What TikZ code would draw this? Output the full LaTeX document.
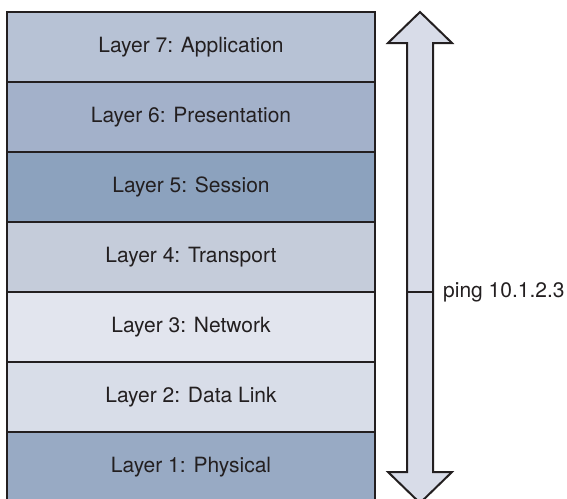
\documentclass[tikz,border=0pt]{standalone}
\usepackage{fontspec}
\setmainfont{TeX Gyre Heros}
\definecolor{txt}{HTML}{231F20}
\definecolor{lseven}{HTML}{B7C2D5}
\definecolor{lsix}{HTML}{A3B1CA}
\definecolor{lfive}{HTML}{8CA2BE}
\definecolor{lfour}{HTML}{C5CCDA}
\definecolor{lthree}{HTML}{E2E5EE}
\definecolor{ltwo}{HTML}{D8DDE8}
\definecolor{lone}{HTML}{98AAC4}
\definecolor{arrowfill}{HTML}{D8DCE8}
\begin{document}
\begin{tikzpicture}[x=1pt,y=-1pt,
  layer/.style={draw=txt,line width=2.5pt,minimum width=368pt,minimum height=70pt,
    inner sep=0pt,text=txt,font=\fontsize{21}{25}\selectfont}]
\clip (0,0) rectangle (567,498);
% the seven layers
\node [layer,fill=lseven] (app) at (191,47) {Layer 7: Application};
\node [layer,fill=lsix] (pres) at (191,117) {Layer 6: Presentation};
\node [layer,fill=lfive] (sess) at (191,187) {Layer 5: Session};
\node [layer,fill=lfour] (trans) at (191,257) {Layer 4: Transport};
\node [layer,fill=lthree] (net) at (191,327) {Layer 3: Network};
\node [layer,fill=ltwo] (link) at (191,397) {Layer 2: Data Link};
\node [layer,fill=lone] (phys) at (191,467) {Layer 1: Physical};
% double arrow
\draw [txt,line width=2pt,fill=arrowfill,line join=miter]
  (420,12) -- (452,43) -- (433,43) -- (433,472) -- (452,472) -- (420,503)
  -- (388,472) -- (407,472) -- (407,43) -- (388,43) -- cycle;
\coordinate (midl) at (407,292);
\coordinate (midr) at (433,292);
\draw [txt,line width=2pt] (midl) -- (midr);
\node [anchor=west,inner sep=0pt,text=txt,font=\fontsize{21}{25}\selectfont] (ping) at (443,292) {ping 10.1.2.3};
\end{tikzpicture}
\end{document}
